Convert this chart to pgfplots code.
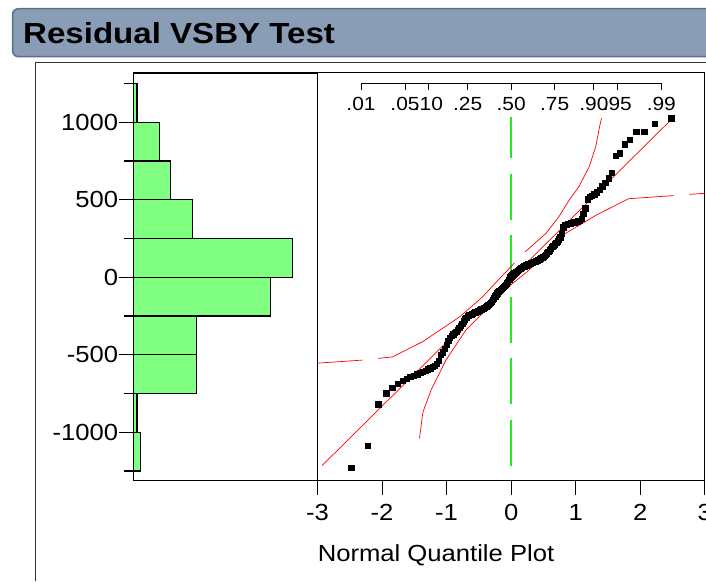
\documentclass[border=0pt]{standalone}
\usepackage{fontspec}
\setmainfont[FakeStretch=1.1]{Liberation Sans}
\newfontfamily\titlefont[FakeStretch=1.14]{Liberation Sans}
\usepackage{pgfplots}
\pgfplotsset{compat=1.18}
\usepackage{pgfplotstable}

\definecolor{histgreen}{RGB}{128,255,128}
\definecolor{refgreen}{RGB}{40,230,40}
\definecolor{barfill}{RGB}{138,157,182}
\definecolor{bardraw}{RGB}{92,110,138}

% sorted residuals vs normal quantile i/(n+1), n=151
\pgfplotstableread{
z v
-2.479 -1228
-2.222 -1088
-2.059 -820
-1.938 -748
-1.840 -713
-1.757 -687
-1.684 -669
-1.620 -656
-1.561 -643
-1.508 -633
-1.458 -624
-1.412 -616
-1.369 -608
-1.328 -601
-1.289 -594
-1.252 -586
-1.217 -578
-1.183 -569
-1.150 -559
-1.119 -538
-1.089 -498
-1.059 -484
-1.031 -462
-1.003 -436
-0.976 -410
-0.950 -391
-0.925 -378
-0.900 -368
-0.875 -359
-0.851 -350
-0.828 -338
-0.805 -326
-0.782 -314
-0.760 -300
-0.738 -284
-0.717 -271
-0.695 -260
-0.674 -249
-0.654 -245
-0.634 -241
-0.614 -237
-0.594 -233
-0.574 -229
-0.555 -225
-0.536 -222
-0.517 -218
-0.498 -214
-0.480 -211
-0.461 -207
-0.443 -203
-0.425 -199
-0.407 -195
-0.389 -190
-0.371 -184
-0.354 -178
-0.336 -171
-0.319 -164
-0.301 -156
-0.284 -146
-0.267 -135
-0.250 -123
-0.233 -112
-0.216 -102
-0.199 -94
-0.183 -87
-0.166 -80
-0.149 -74
-0.132 -67
-0.116 -60
-0.099 -54
-0.083 -47
-0.066 -39
-0.050 -30
-0.033 -16
-0.017 1
0.000 8
0.017 14
0.033 20
0.050 26
0.066 32
0.083 38
0.099 44
0.116 49
0.132 54
0.149 59
0.166 63
0.183 67
0.199 71
0.216 75
0.233 78
0.250 81
0.267 84
0.284 87
0.301 90
0.319 93
0.336 96
0.354 99
0.371 102
0.389 106
0.407 110
0.425 114
0.443 118
0.461 122
0.480 127
0.498 133
0.517 140
0.536 147
0.555 155
0.574 164
0.594 174
0.614 185
0.634 196
0.654 205
0.674 214
0.695 222
0.717 232
0.738 245
0.760 258
0.782 280
0.805 322
0.828 338
0.851 341
0.875 344
0.900 347
0.925 350
0.950 353
0.976 355
1.003 358
1.031 362
1.059 367
1.089 378
1.119 410
1.150 445
1.183 505
1.217 518
1.252 528
1.289 536
1.328 548
1.369 565
1.412 588
1.458 612
1.508 640
1.561 676
1.620 785
1.684 800
1.757 858
1.840 888
1.938 938
2.059 939
2.222 989
2.479 1026
}\qdata

\begin{document}
\begin{tikzpicture}[x=1pt,y=1pt]
% title bar
\draw[bardraw, line width=1.5pt, fill=barfill, rounded corners=6pt] (12.5,524.3) rectangle (760,572.3);
\node[anchor=base west, inner sep=0pt, font=\titlefont\bfseries\fontsize{29}{34}\selectfont] at (23pt,537.6pt) {Residual VSBY Test};
% report outline
\draw[black!80, line width=1pt] (35,0) -- (35,518.5) -- (760,518.5);

% histogram
\begin{axis}[
  at={(133.3pt,100.5pt)}, anchor=south west,
  scale only axis, width=184.2pt, height=407.5pt,
  xmin=0, xmax=49.8, ymin=-1311, ymax=1318,
  xtick=\empty,
  ytick={-1000,-500,0,500,1000},
  yticklabels={-1000,-500,0,500,1000},
  minor ytick={-1250,-750,-250,250,750,1250},
  ytick pos=left,
  tick align=outside,
  major tick length=14pt, minor tick length=9pt,
  tick style={black, line width=1.2pt},
  axis line style={black, line width=1.1pt},
  yticklabel style={font=\fontsize{23.3}{28}\selectfont, inner sep=1pt},
  clip=false,
]
\addplot[xbar interval, fill=histgreen, draw=black, line width=1.3pt] coordinates {
(2,-1250) (1,-1000) (17,-750) (17,-500) (37,-250) (43,0) (16,250) (10,500) (7,750) (1,1000) (1,1250)};
\end{axis}

% normal quantile plot
\begin{axis}[
  at={(317.5pt,100.5pt)}, anchor=south west,
  scale only axis, width=387.3pt, height=407.5pt,
  xmin=-3, xmax=3, ymin=-1311, ymax=1318,
  ytick=\empty,
  xtick={-3,-2,-1,0,1,2,3},
  xticklabels={-3,-2,-1,0,1,2,3},
  xtick pos=left, tick align=outside, major tick length=14pt,
  tick style={black, line width=0.8pt},
  axis line style={black, line width=1pt},
  xticklabel style={font=\fontsize{23.3}{28}\selectfont, inner sep=1pt, yshift=-9pt},
  clip=false,
]
\addplot[color=refgreen, draw=refgreen, solid, line width=1.5pt, dash pattern=on 46pt off 15.5pt] coordinates {(0,-1217) (0,1036)};
% confidence bands
\addplot[red, line width=0.7pt] coordinates {(-3.0,-554) (-2.30,-534)};
\addplot[red, line width=0.7pt] coordinates {(-2.06,-523) (-1.84,-514) (-1.37,-415) (-0.80,-256) (-0.44,-125) (-0.24,-35) (0.05,92)};
\addplot[red, line width=0.7pt] coordinates {(0.22,165) (0.54,284) (0.74,391) (0.90,499) (1.05,585) (1.21,714) (1.31,843) (1.37,972) (1.40,1026)};
\addplot[red, line width=0.7pt] coordinates {(-1.42,-1040) (-1.37,-877) (-1.345,-845) (-1.24,-727) (-1.01,-534) (-0.70,-340) (-0.34,-190) (0.02,-40) (0.28,47) (0.54,155) (0.80,273) (1.33,404) (1.82,507) (2.52,527)};
\addplot[red, line width=0.7pt] coordinates {(2.76,535) (3.0,542)};
% data
\addplot[only marks, mark=square*, mark size=2.7pt, mark options={draw=black, fill=black, line width=0.4pt}] table[x=z, y=v] {\qdata};
% fitted normal line, drawn over the points
\addplot[red, line width=0.7pt] coordinates {(-2.93,-1215) (2.52,1034)};
\end{axis}

% probability scale
\begin{axis}[
  at={(361.0pt,497.7pt)}, anchor=south west,
  scale only axis, width=300.3pt, height=5pt,
  xmin=-2.3263, xmax=2.3263, ymin=0, ymax=1,
  axis x line=bottom, axis y line=none,
  axis line style={-, black, line width=0.8pt},
  ytick=\empty,
  xtick={-2.3263,-1.6449,-1.2816,-0.6745,0,0.6745,1.2816,1.6449,2.3263},
  xticklabels={.01,.05,.10,.25,.50,.75,.90,.95,.99},
  tick align=outside, major tick length=7pt,
  tick style={black, line width=0.8pt},
  xticklabel style={font=\fontsize{19}{22}\selectfont, inner sep=1pt, yshift=-6pt},
]
\addplot[draw=none] coordinates {(0,0.5)};
\end{axis}

\node[anchor=base, inner sep=0pt, font=\fontsize{23.3}{28}\selectfont] at (436pt,19.3pt) {Normal Quantile Plot};

\pgfresetboundingbox
\useasboundingbox (0pt,0pt) rectangle (706pt,581pt);
\end{tikzpicture}
\end{document}
